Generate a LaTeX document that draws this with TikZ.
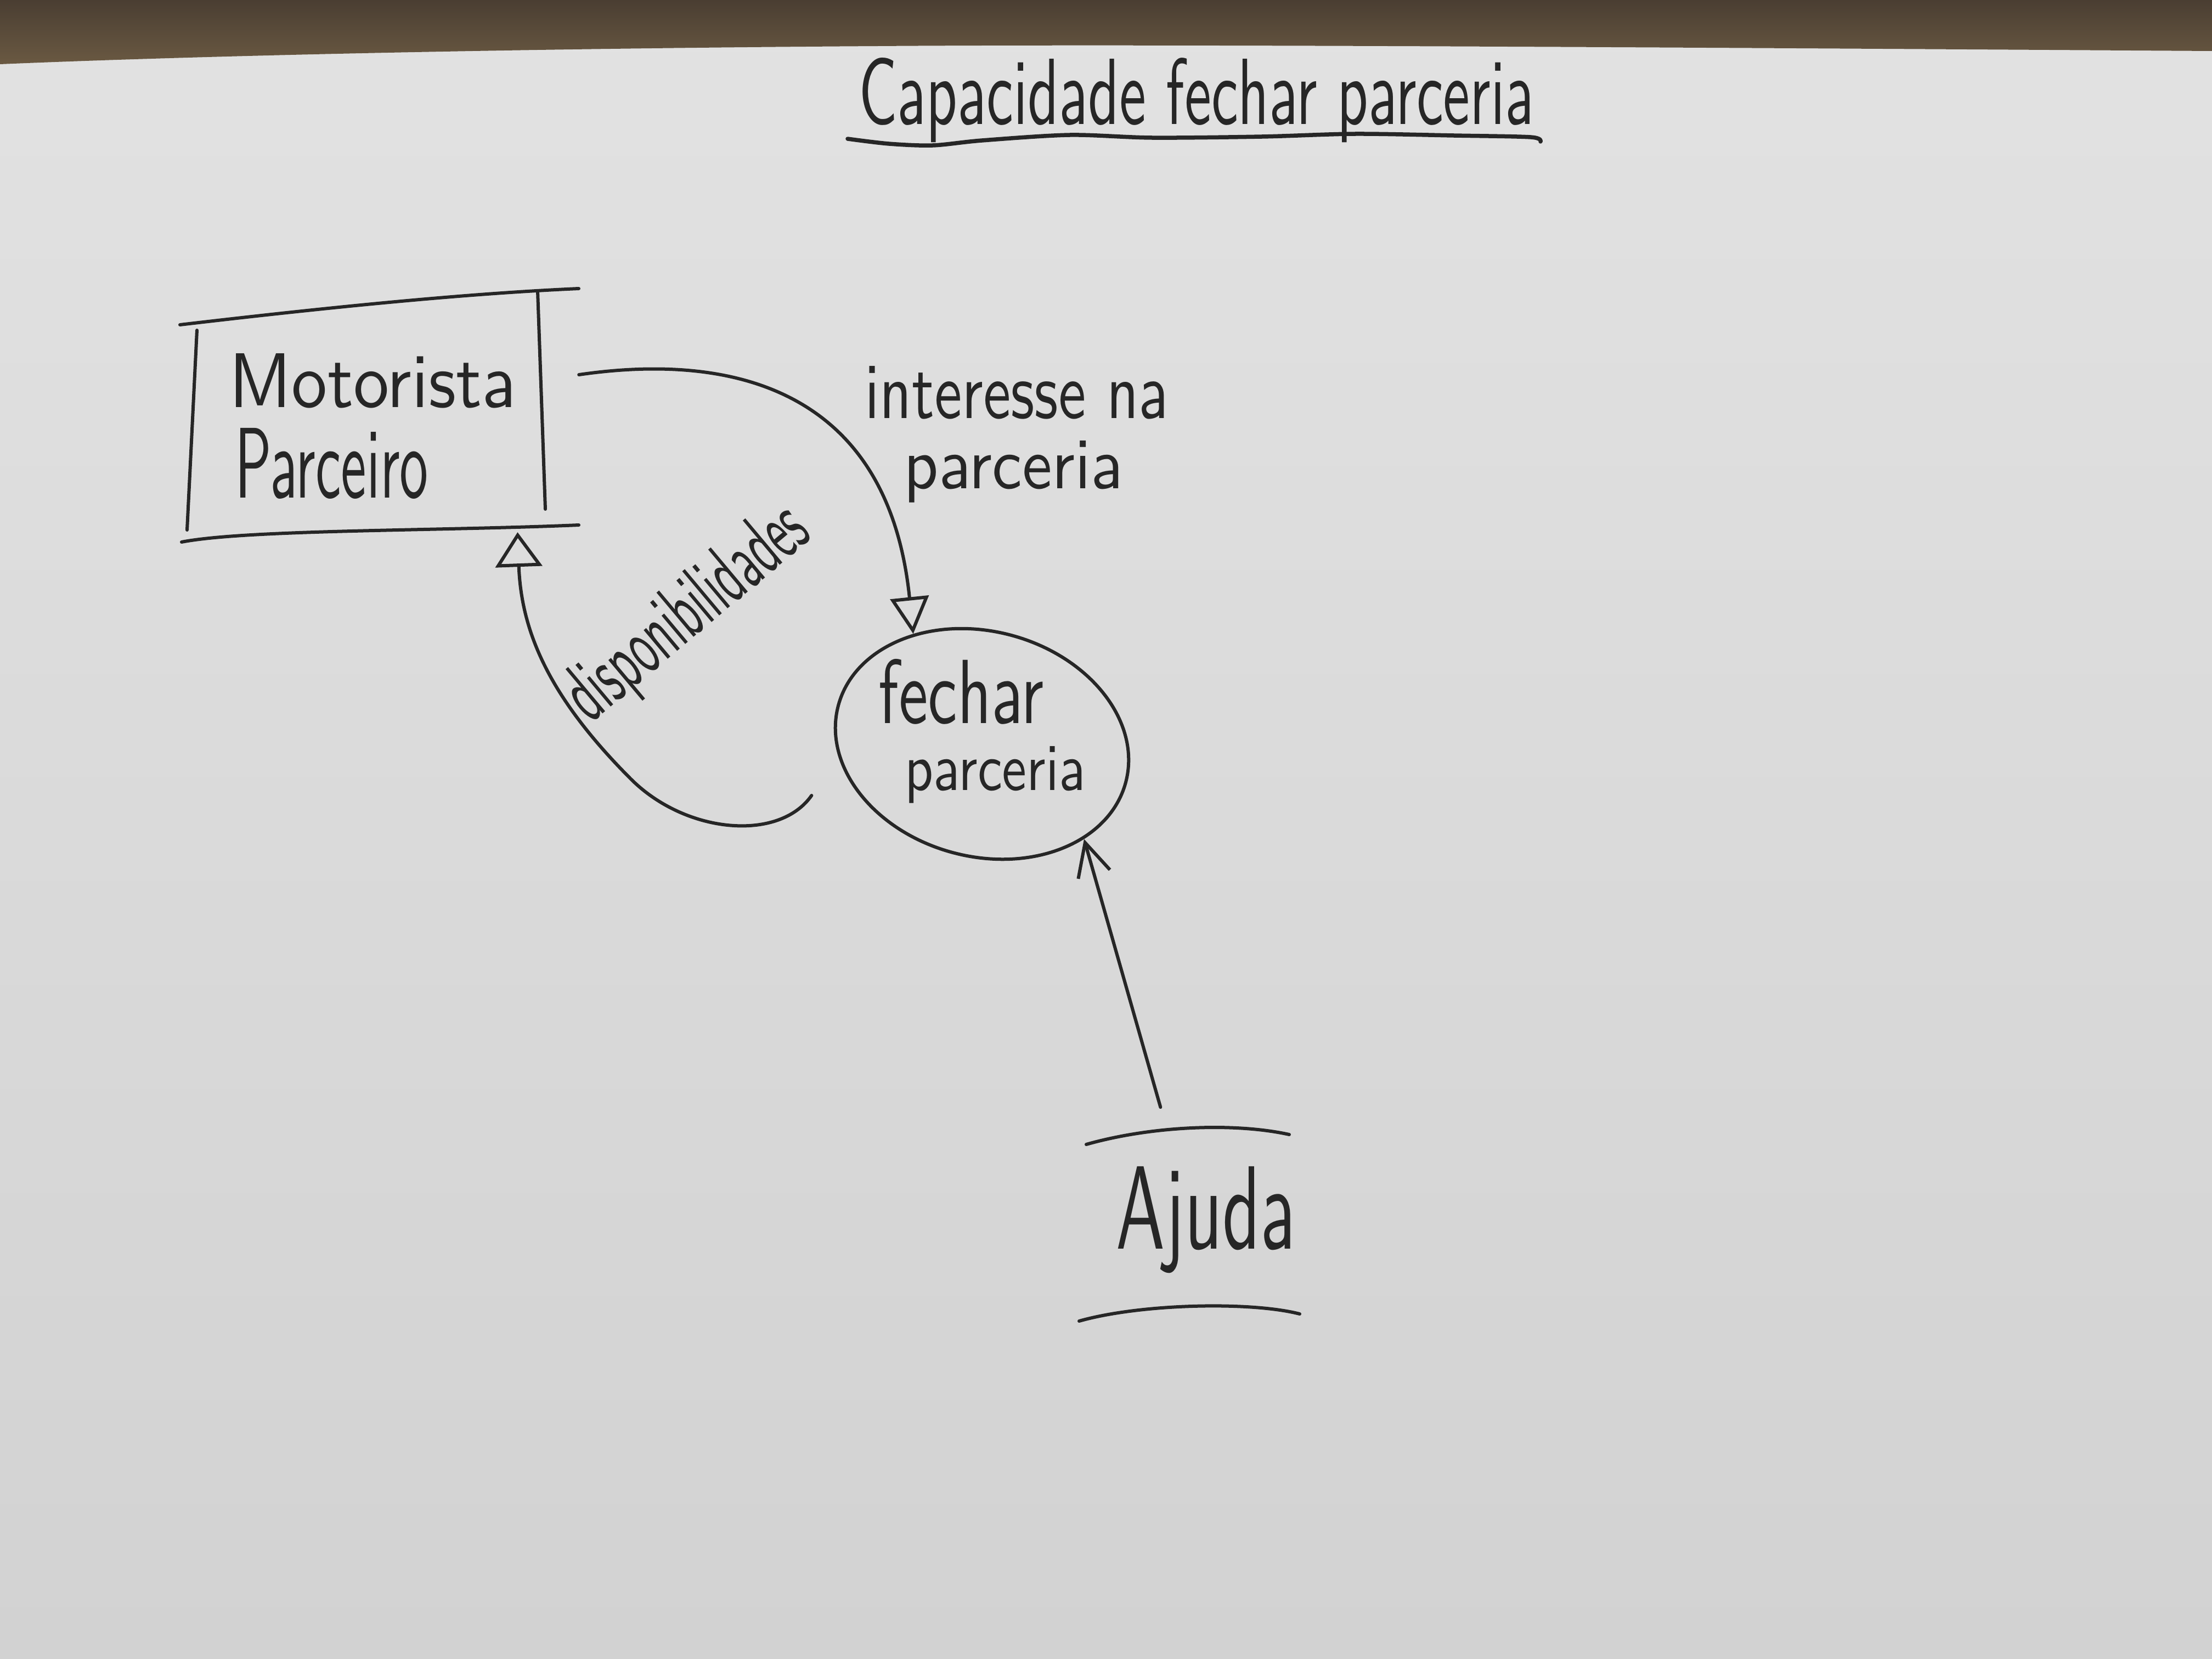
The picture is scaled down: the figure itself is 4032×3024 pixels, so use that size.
\documentclass[tikz,border=0pt]{standalone}
\usepackage{graphicx}
\usetikzlibrary{arrows.meta,shapes.geometric,calc}

\definecolor{ink}{HTML}{262626}
\definecolor{paperhi}{HTML}{E2E2E2}
\definecolor{paperlo}{HTML}{D2D2D2}
\definecolor{woodtop}{HTML}{4A3E32}
\definecolor{woodlow}{HTML}{6A5942}

% handwritten-looking label: width and height (cm) forced on the text
\newcommand{\hw}[3]{\resizebox{#1cm}{#2cm}{\sffamily #3}}

\begin{document}
\begin{tikzpicture}[x=0.01cm, y=-0.01cm,
  pen/.style={draw=ink, line width=0.06cm, line cap=round, line join=round},
  handtext/.style={inner sep=0pt, text=ink, anchor=base west},
  anchorbox/.style={rectangle, inner sep=0pt, outer sep=0pt, draw=none},
  procshape/.style={ellipse, pen, inner sep=0pt},
]
\useasboundingbox (0,0) rectangle (4032,3024);

% sheet of paper
\shade[top color=paperhi, bottom color=paperlo] (0,0) rectangle (4032,3024);
% desk edge above the sheet
\shade[top color=woodtop, bottom color=woodlow]
  (0,0) -- (4032,0) -- (4032,93)
  .. controls (3000,86) and (2100,80) .. (1600,84)
  .. controls (1000,88) and (400,100) .. (0,117) -- cycle;

% title
\node[handtext] (title) at (1565,226) {\hw{12.3}{1.21}{Capacidade fechar parceria}};
\draw[pen, line width=0.075cm] plot[smooth] coordinates
  {(1545,253) (1620,262) (1700,265) (1790,256) (1950,246) (2100,251)
   (2300,249) (2470,244) (2650,247) (2790,250) (2808,258)};

% external entity: Motorista Parceiro
\node[anchorbox, minimum width=7.24cm, minimum height=4.2cm] (box) at (693,760) {};
\draw[pen] (328,592) .. controls (600,560) and (850,535) .. (1055,526);
\draw[pen] (359,602) -- (341,966);
\draw[pen] (980,530) -- (994,928);
\draw[pen] (331,988) .. controls (450,965) and (800,968) .. (1055,957);
\node[handtext] (mot1) at (417,742) {\hw{5.23}{0.98}{Motorista}};
\node[handtext] (mot2) at (428,907) {\hw{3.52}{1.27}{Parceiro}};

% process: fechar parceria
\node[procshape, rotate=-15, minimum width=5.42cm, minimum height=4.1cm] (proc) at (1790,1356) {};
\node[handtext] (fech1) at (1601,1318) {\hw{3.01}{1.17}{fechar}};
\node[handtext] (fech2) at (1649,1440) {\hw{3.29}{0.80}{parceria}};

% data store: Ajuda
\draw[pen] (1980,2086) .. controls (2100,2052) and (2250,2046) .. (2350,2068);
\draw[pen] (1967,2408) .. controls (2080,2376) and (2280,2372) .. (2369,2395);
\node[handtext] (ajtext) at (2034,2276) {\hw{3.27}{1.50}{Ajuda}};

% flows
\draw[pen, -{Triangle[open, length=0.67cm, width=0.70cm]}]
  (box.12) .. controls (1350,640) and (1620,720) .. (proc.137);
\node[handtext] (lab1a) at (1576,762) {\hw{5.53}{0.95}{interesse na}};
\node[handtext] (lab1b) at (1647,890) {\hw{4.00}{0.87}{parceria}};

\draw[pen, -{Triangle[open, length=0.63cm, width=0.85cm]}]
  ([shift={(-72,21)}]proc.212) .. controls (1420,1535) and (1250,1520) .. (1150,1420)
  .. controls (1000,1270) and (950,1150) .. (box.-40);
\node[handtext, rotate=40] (lab2) at (1076,1320) {\hw{5.30}{1.05}{disponibilidades}};

\draw[pen, -{Straight Barb[length=0.6cm, width=0.6cm]}]
  ([shift={(-83,-107)}]ajtext.north) -- (proc.-28);
\end{tikzpicture}
\end{document}
